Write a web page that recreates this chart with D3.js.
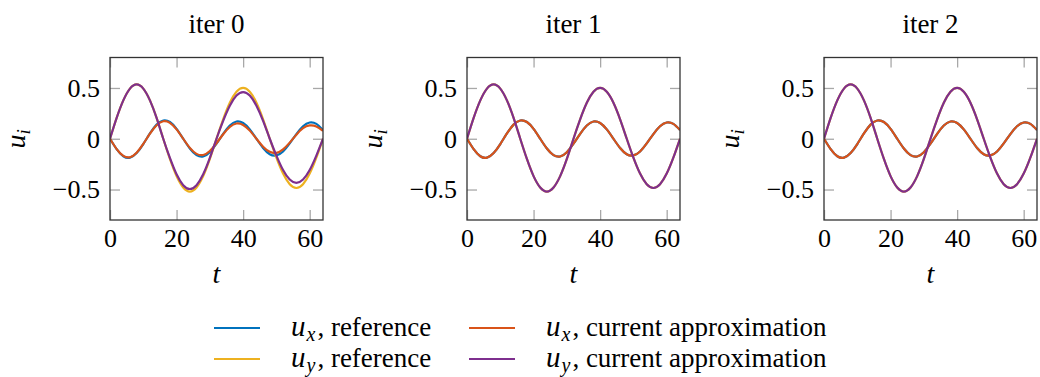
<!DOCTYPE html>
<html>
<head>
<meta charset="utf-8">
<script src="https://cdn.jsdelivr.net/npm/d3@7"></script>
<style>
  body { margin: 0; background: #fff; }
</style>
</head>
<body>
<svg id="chart" width="1040" height="377"></svg>
<script>
// sample times (t = 0, 2, ..., 64)
var tVals = [0, 2, 4, 6, 8, 10, 12, 14, 16, 18, 20, 22, 24, 26, 28, 30, 32,
             34, 36, 38, 40, 42, 44, 46, 48, 50, 52, 54, 56, 58, 60, 62, 64];

// reference solution
var uxRef = [0, -0.102, -0.172, -0.186, -0.141, -0.052, 0.052, 0.139, 0.180, 0.165, 0.098, 0,
             -0.096, -0.161, -0.175, -0.133, -0.049, 0.049, 0.131, 0.170, 0.155, 0.092, 0,
             -0.091, -0.152, -0.164, -0.125, -0.046, 0.046, 0.123, 0.160, 0.146, 0.086];
var uyRef = [0, 0.205, 0.378, 0.494, 0.535, 0.494, 0.378, 0.205, 0, -0.199, -0.368, -0.480,
             -0.520, -0.480, -0.368, -0.199, 0, 0.191, 0.354, 0.462, 0.500, 0.462, 0.354, 0.191,
             0, -0.186, -0.343, -0.448, -0.485, -0.448, -0.343, -0.186, 0];

// current approximation, iter 0
var uxIter0 = [0, -0.102, -0.169, -0.182, -0.138, -0.051, 0.050, 0.133, 0.172, 0.157, 0.092, 0,
               -0.090, -0.149, -0.160, -0.121, -0.044, 0.044, 0.116, 0.150, 0.136, 0.080, 0,
               -0.078, -0.129, -0.139, -0.104, -0.038, 0.040, 0.104, 0.131, 0.121, 0.078];
var uyIter0 = [0, 0.205, 0.378, 0.494, 0.535, 0.494, 0.378, 0.205, 0, -0.189, -0.350, -0.457,
               -0.495, -0.457, -0.350, -0.189, 0, 0.176, 0.325, 0.425, 0.460, 0.425, 0.325, 0.176,
               0, -0.166, -0.308, -0.402, -0.435, -0.402, -0.308, -0.166, 0];

// iter 1 and 2 sit on top of the reference
var uxIter1 = uxRef.slice(), uyIter1 = uyRef.slice();
var uxIter2 = uxRef.slice(), uyIter2 = uyRef.slice();

var titles = ["iter 0", "iter 1", "iter 2"];
var uxApprox = [uxIter0, uxIter1, uxIter2];
var uyApprox = [uyIter0, uyIter1, uyIter2];

var xTicks = [0, 20, 40, 60];
var yTicks = [-0.5, 0, 0.5];

var colors = { uxRef: "#0072BD", uyRef: "#EDB120", uxApp: "#D95319", uyApp: "#7E2F8E" };
var serif = "'Liberation Serif', 'Times New Roman', serif";

var svg = d3.select("#chart").attr("font-family", serif);

var panelLeft = [110, 467, 824];
var pw = 213, plotTop = 57.5, plotBottom = 220;
var ph = plotBottom - plotTop;

var x = d3.scaleLinear().domain([0, 64]).range([0, pw]);
var y = d3.scaleLinear().domain([-0.8, 0.8]).range([ph, 0]);

var line = d3.line()
    .x(function (d) { return x(d[0]); })
    .y(function (d) { return y(d[1]); })
    .curve(d3.curveNatural);

function fmt(v) {
    if (v === 0) return "0";
    return (v < 0 ? "\u2212" : "") + Math.abs(v);
}

svg.append("defs").append("clipPath").attr("id", "clip")
    .append("rect").attr("width", pw).attr("height", ph);

titles.forEach(function (title, i) {
    var g = svg.append("g").attr("transform", "translate(" + panelLeft[i] + "," + plotTop + ")");

    // ticks (inward, all sides)
    var axB = g.append("g").attr("transform", "translate(0," + ph + ")")
        .call(d3.axisBottom(x).tickValues(xTicks).tickSize(-10).tickPadding(9).tickFormat(fmt));
    var axT = g.append("g")
        .call(d3.axisTop(x).tickValues(xTicks).tickSize(-10).tickFormat(""));
    var axL = g.append("g")
        .call(d3.axisLeft(y).tickValues(yTicks).tickSize(-10).tickPadding(10).tickFormat(fmt));
    var axR = g.append("g").attr("transform", "translate(" + pw + ",0)")
        .call(d3.axisRight(y).tickValues(yTicks).tickSize(-10).tickFormat(""));
    [axB, axT, axL, axR].forEach(function (a) {
        a.attr("font-family", serif).attr("font-size", 26);
        a.select(".domain").remove();
        a.selectAll(".tick line").attr("stroke", "#a8a8a8").attr("stroke-width", 1.3);
        a.selectAll(".tick text").style("font-family", serif).style("font-size", "26px").attr("fill", "#000");
    });

    // curves
    var curves = g.append("g").attr("clip-path", "url(#clip)");
    var series = [
        [uxRef, colors.uxRef],
        [uyRef, colors.uyRef],
        [uxApprox[i], colors.uxApp],
        [uyApprox[i], colors.uyApp]
    ];
    series.forEach(function (s) {
        curves.append("path")
            .datum(tVals.map(function (t, k) { return [t, s[0][k]]; }))
            .attr("d", line)
            .attr("fill", "none")
            .attr("stroke", s[1])
            .attr("stroke-width", 2.2)
            .attr("stroke-linejoin", "round");
    });

    // frame
    g.append("rect").attr("width", pw).attr("height", ph)
        .attr("fill", "none").attr("stroke", "#333").attr("stroke-width", 1.3);

    // title
    g.append("text").attr("x", pw / 2).attr("y", 33 - plotTop)
        .attr("text-anchor", "middle")
        .style("font-family", serif).style("font-size", "27px").text(title);

    // axis labels
    g.append("text").attr("x", pw / 2).attr("y", 283 - plotTop)
        .attr("text-anchor", "middle")
        .style("font-family", serif).style("font-size", "28px").style("font-style", "italic")
        .text("t");
    var yl = g.append("text")
        .attr("transform", "translate(" + (-85) + "," + (y(0)) + ") rotate(-90)")
        .attr("text-anchor", "middle")
        .style("font-family", serif).style("font-size", "28px").style("font-style", "italic");
    yl.append("tspan").text("u");
    yl.append("tspan").attr("dy", 5).style("font-size", "19px").text("i");
});

// legend
var legendItems = [
    { sub: "x", label: ", reference", color: colors.uxRef, col: 0, row: 0 },
    { sub: "y", label: ", reference", color: colors.uyRef, col: 0, row: 1 },
    { sub: "x", label: ", current approximation", color: colors.uxApp, col: 1, row: 0 },
    { sub: "y", label: ", current approximation", color: colors.uyApp, col: 1, row: 1 }
];
var legX = [214, 469], legY = [328, 359];

var leg = svg.append("g");
legendItems.forEach(function (d) {
    var lx = legX[d.col], ly = legY[d.row];
    leg.append("line")
        .attr("x1", lx).attr("x2", lx + 46).attr("y1", ly).attr("y2", ly)
        .attr("stroke", d.color).attr("stroke-width", 2.2);
    var t = leg.append("text").attr("x", lx + 77).attr("y", ly + 8)
        .style("font-family", serif).style("font-size", "27px");
    t.append("tspan").style("font-style", "italic").style("font-size", "29px").text("u");
    t.append("tspan").attr("dx", 1).attr("dy", 5).style("font-size", "20px").style("font-style", "italic").text(d.sub);
    t.append("tspan").attr("dx", 2).attr("dy", -5).text(d.label);
});
</script>
</body>
</html>
